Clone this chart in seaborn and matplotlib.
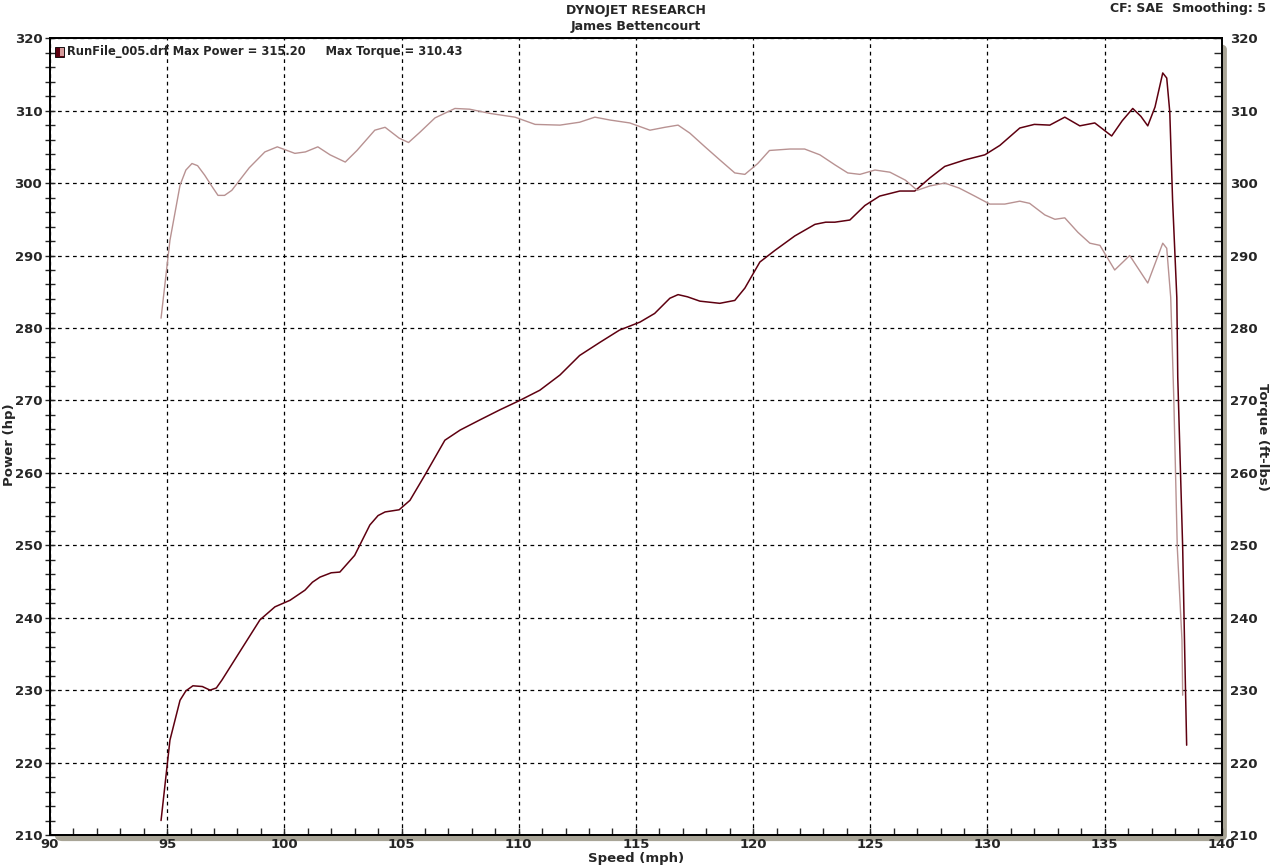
import matplotlib
matplotlib.use("Agg")
import matplotlib.pyplot as plt
import seaborn as sns
import pandas as pd
from matplotlib.patches import FancyBboxPatch, Rectangle
from matplotlib.ticker import MultipleLocator

# speed (mph) and power (hp)
power_speed = [94.74, 95.12, 95.55, 95.8, 96.1, 96.5, 96.83, 97.1, 97.34, 98.1, 98.96, 99.6,
               100.24, 100.88, 101.2, 101.52, 102.0, 102.37, 103.0, 103.65, 104.0, 104.3,
               104.9, 105.36, 106.0, 106.85, 107.5, 108.34, 109.2, 110.05, 110.9, 111.76,
               112.6, 113.46, 114.3, 115.17, 115.8, 116.45, 116.8, 117.2, 117.73, 118.58,
               119.22, 119.65, 120.29, 120.93, 121.78, 122.64, 123.1, 123.49, 124.13, 124.77,
               125.4, 126.26, 126.9, 127.54, 128.18, 129.04, 129.89, 130.53, 131.38, 132.0,
               132.66, 133.3, 133.94, 134.58, 135.3, 135.75, 136.2, 136.55, 136.84, 137.15,
               137.48, 137.65, 137.78, 137.9, 138.08, 138.12, 138.33, 138.42, 138.5]
power_hp = [212.0, 223.1, 228.6, 229.9, 230.6, 230.5, 230.0, 230.3, 231.4, 235.3, 239.7, 241.5,
            242.4, 243.8, 244.9, 245.6, 246.2, 246.3, 248.6, 252.8, 254.1, 254.6,
            254.9, 256.2, 259.7, 264.5, 265.9, 267.3, 268.7, 270.0, 271.4, 273.5,
            276.2, 278.0, 279.7, 280.8, 282.0, 284.1, 284.6, 284.3, 283.7, 283.4,
            283.8, 285.5, 289.1, 290.7, 292.7, 294.3, 294.6, 294.6, 294.9, 296.9,
            298.2, 298.9, 298.9, 300.7, 302.3, 303.2, 303.9, 305.2, 307.6, 308.1,
            308.0, 309.1, 307.9, 308.3, 306.5, 308.6, 310.3, 309.2, 307.9, 310.5,
            315.2, 314.5, 309.8, 297.6, 284.2, 273.2, 249.7, 234.8, 222.4]

# speed (mph) and torque (ft-lbs)
torque_speed = [94.74, 95.12, 95.55, 95.8, 96.06, 96.3, 96.6, 96.9, 97.17, 97.45, 97.76, 98.5,
                99.17, 99.7, 100.45, 100.9, 101.43, 101.95, 102.6, 103.1, 103.86, 104.3,
                104.9, 105.3, 105.78, 106.43, 107.28, 107.9, 108.8, 109.84, 110.7, 111.76,
                112.6, 113.25, 113.9, 114.74, 115.6, 116.24, 116.8, 117.3, 117.95, 118.58,
                119.22, 119.65, 120.2, 120.7, 121.57, 122.2, 122.85, 123.5, 124.04, 124.56,
                125.2, 125.84, 126.5, 127.0, 127.54, 128.18, 128.8, 129.46, 130.1, 130.74,
                131.38, 131.8, 132.45, 132.88, 133.3, 133.86, 134.37, 134.8, 135.43, 136.07,
                136.84, 137.48, 137.65, 137.82, 137.95, 138.1, 138.3, 138.33]
torque_ftlb = [281.35, 292.1, 299.7, 301.8, 302.7, 302.4, 301.1, 299.6, 298.3, 298.3, 299.0, 302.1,
               304.3, 305.0, 304.1, 304.3, 305.0, 303.9, 302.9, 304.5, 307.3, 307.7,
               306.2, 305.6, 307.0, 309.0, 310.3, 310.2, 309.6, 309.1, 308.1, 308.0,
               308.4, 309.1, 308.7, 308.3, 307.3, 307.7, 308.0, 306.9, 305.0, 303.2,
               301.4, 301.2, 302.7, 304.5, 304.7, 304.7, 303.9, 302.5, 301.4, 301.2,
               301.8, 301.5, 300.4, 299.0, 299.6, 300.0, 299.3, 298.2, 297.1, 297.1,
               297.5, 297.2, 295.6, 295.0, 295.2, 293.2, 291.7, 291.4, 288.0, 290.0,
               286.2, 291.7, 291.0, 284.2, 270.4, 249.7, 236.9, 229.3]

power_df = pd.DataFrame({"speed": power_speed, "power": power_hp})
torque_df = pd.DataFrame({"speed": torque_speed, "torque": torque_ftlb})

power_color = "#5e0010"
torque_color = "#b89292"

sns.set_style("white")
plt.rcParams["font.family"] = ["DejaVu Sans"]
plt.rcParams["font.weight"] = "bold"

fig = plt.figure(figsize=(12.71, 8.68), dpi=100)
ax = fig.add_axes([0.0393, 0.038, 0.922, 0.918])

# grey drop shadow behind the chart frame
shadow = FancyBboxPatch((0.0393 + 0.004, 0.038 - 0.007), 0.922, 0.918,
                        boxstyle="round,pad=0,rounding_size=0.006",
                        transform=fig.transFigure, facecolor="#a9a597",
                        edgecolor="none", zorder=0)
fig.patches.append(shadow)

ax.set_facecolor("white")
ax.set_zorder(2)
sns.lineplot(data=power_df, x="speed", y="power", ax=ax, color=power_color,
             lw=1.1, sort=False)

ax2 = ax.twinx()
sns.lineplot(data=torque_df, x="speed", y="torque", ax=ax2, color=torque_color,
             lw=1.0, sort=False)

for a in (ax, ax2):
    a.set_xlim(90, 140)
    a.set_ylim(210, 320)
    a.yaxis.set_major_locator(MultipleLocator(10))
    a.yaxis.set_minor_locator(MultipleLocator(2))
    for s in a.spines.values():
        s.set_color("black")
        s.set_linewidth(1.3)

ax.xaxis.set_major_locator(MultipleLocator(5))
ax.xaxis.set_minor_locator(MultipleLocator(1))
ax.grid(True, which="major", color="black", linestyle=(0, (3, 3)), lw=0.9)
ax.tick_params(axis="y", which="both", direction="inout", length=7, width=1,
               labelsize=9.5, pad=2)
ax.tick_params(axis="x", which="both", direction="in", length=5, width=1,
               labelsize=9.5, pad=2, bottom=True)
ax2.tick_params(axis="y", which="both", direction="in", length=6, width=1,
                labelsize=9.5, pad=6, right=True)

ax.set_xlabel("Speed (mph)", fontsize=9.5, fontweight="bold", labelpad=1)
ax.set_ylabel("Power (hp)", fontsize=9.5, fontweight="bold", va="center")
ax.yaxis.set_label_coords(-0.0345, 0.49)
ax2.set_ylabel("Torque (ft-lbs)", fontsize=9.5, fontweight="bold", rotation=270,
               va="center")
ax2.yaxis.set_label_coords(1.0345, 0.5)

for lbl in ax.get_xticklabels() + ax.get_yticklabels() + ax2.get_yticklabels():
    lbl.set_fontweight("bold")

# legend swatch + text
ax.add_patch(Rectangle((0.0043, 0.9765), 0.0075, 0.0125, transform=ax.transAxes,
                       facecolor=power_color, edgecolor="black", lw=0.6, zorder=5,
                       clip_on=False))
ax.add_patch(Rectangle((0.0082, 0.9775), 0.0034, 0.0105, transform=ax.transAxes,
                       facecolor="#d59a9a", edgecolor="none", zorder=6, clip_on=False))
ax.text(0.0145, 0.9835, "RunFile_005.drf Max Power = 315.20     Max Torque = 310.43",
        transform=ax.transAxes, fontsize=8.3, fontweight="bold", va="center", ha="left",
        zorder=6)

fig.text(0.5005, 0.988, "DYNOJET RESEARCH", ha="center", va="center", fontsize=9,
         fontweight="bold")
fig.text(0.5005, 0.97, "James Bettencourt", ha="center", va="center", fontsize=9,
         fontweight="bold")
fig.text(0.996, 0.99, "CF: SAE  Smoothing: 5", ha="right", va="center", fontsize=9,
         fontweight="bold")

fig.savefig("out.png", dpi=100)
